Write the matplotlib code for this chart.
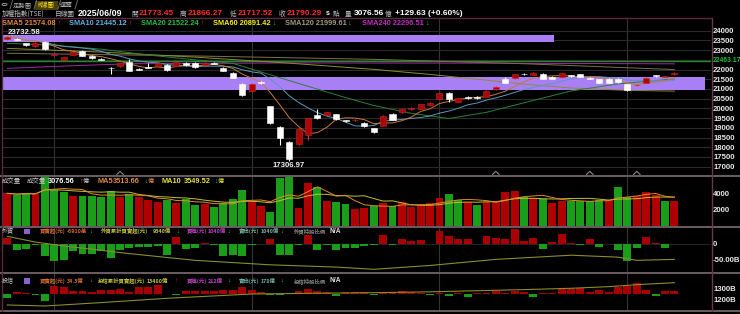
import matplotlib
matplotlib.use('Agg')
import matplotlib.pyplot as plt
from matplotlib.lines import Line2D
from matplotlib.patches import Rectangle
import numpy as np
import pandas as pd

plt.rcParams['font.family'] = ['Noto Sans CJK TC', 'DejaVu Sans']

# ---------------- data ----------------
opens = [23560, 23570, 23350, 23215, 23435, 22740, 22495, 22770, 22955, 22695,
         22540, 22095, 22185, 22370, 22020, 22120, 22200, 22250, 22185, 22355,
         22355, 22255, 22330, 22095, 21840, 21255, 20880, 21340, 20120, 19025,
         18280, 18170, 18640, 19660, 19645, 19695, 19380, 19395, 19265, 18975,
         19115, 19710, 19800, 19955, 19990, 20160, 20485, 20810, 20350, 20550,
         20560, 20605, 20985, 21495, 21550, 21780, 21720, 21785, 21630, 21600,
         21680, 21750, 21560, 21495, 21495, 21510, 21240, 21195, 21330, 21680,
         21620, 21773.45]
highs = [23732.58, 23620, 23390, 23420, 23490, 22800, 22660, 22930, 22990, 22740,
         22570, 22110, 22340, 22520, 22060, 22320, 22360, 22270, 22400, 22380,
         22370, 22370, 22380, 22120, 21860, 21290, 21300, 21420, 20130, 19100,
         18300, 19010, 19530, 19950, 19840, 19720, 19420, 19460, 19290, 19000,
         19640, 19740, 19990, 20050, 20250, 20320, 20800, 20840, 20560, 20620,
         20620, 20930, 21140, 21600, 21770, 21820, 21860, 21810, 21680, 21840,
         21720, 21780, 21600, 21520, 21580, 21560, 21260, 21260, 21600, 21700,
         21670, 21866.27]
lows = [23540, 23500, 23230, 23180, 23030, 22700, 22470, 22740, 22700, 22560,
        22480, 21760, 22150, 21920, 21960, 22100, 22180, 21950, 22160, 22200,
        22090, 22230, 22280, 21920, 21560, 20650, 20850, 21280, 19180, 18120,
        17306.97, 18140, 18380, 19470, 19620, 19420, 19300, 19350, 19060, 18740,
        19080, 19380, 19770, 19930, 19960, 20130, 20460, 20330, 20320, 20480,
        20500, 20580, 20960, 21300, 21530, 21720, 21700, 21490, 21490, 21580,
        21630, 21610, 21510, 21300, 21310, 21320, 20920, 21150, 21300, 21630,
        21600, 21717.52]
closes = [23700, 23550, 23270, 23380, 23050, 22765, 22625, 22900, 22715, 22580,
          22520, 22060, 22315, 21945, 22000, 22110, 22335, 21980, 22385, 22220,
          22115, 22350, 22310, 21945, 21585, 20675, 21255, 21320, 19230, 18460,
          17390, 18940, 19490, 19490, 19810, 19440, 19360, 19410, 19095, 18770,
          19605, 19405, 19965, 20020, 20225, 20290, 20770, 20500, 20530, 20530,
          20545, 20910, 21115, 21325, 21750, 21765, 21835, 21515, 21515, 21800,
          21665, 21635, 21545, 21330, 21330, 21345, 20950, 21210, 21580, 21665,
          21640, 21790.29]

volumes = [4083, 3875, 4167, 3958, 6500, 4500, 4292, 3792, 3750, 3792,
           3667, 4375, 3667, 3958, 3583, 3250, 2958, 3250, 2917, 3375,
           2625, 2708, 2333, 2833, 3333, 4500, 3042, 2542, 1792, 5958,
           6083, 2208, 5417, 4833, 3167, 3042, 2708, 2083, 2292, 2542,
           2833, 2542, 2958, 2333, 2625, 2917, 3500, 4000, 3250, 2958,
           2625, 3042, 3042, 4250, 4417, 3583, 3500, 3417, 2917, 3125,
           3125, 3125, 3083, 3250, 3250, 4833, 3667, 3750, 4250, 3833,
           3100, 3077]
vol_red = [1, 0, 0, 1, 0, 0, 0, 1, 0, 0, 0, 0, 1, 0, 1, 1, 1, 0, 1, 0,
           0, 1, 0, 0, 0, 0, 1, 1, 0, 0, 0, 1, 1, 0, 1, 0, 0, 1, 1, 0,
           1, 0, 1, 1, 1, 1, 1, 0, 0, 1, 0, 1, 1, 1, 1, 0, 1, 0, 1, 1,
           0, 0, 0, 0, 1, 0, 0, 1, 1, 1, 0, 1]

foreign_net = [17.8, -20.8, -17.7, -5.2, -39.6, -55.2, -52, -24, -31, -31,
               -24, -44.8, -20.8, -13.5, -10.4, -10.4, -7.3, -36.5, 20.8, -15.6,
               -13.5, 3.1, -3, -39.6, -36.5, -38.5, -5, -2, 15.6, -34.4,
               -36.5, -5, 28, -20.8, -5, -20.8, -13.5, -13.5, -7.3, -5,
               26, -5, 13.5, 7.3, 10.4, -2, 39.6, 24, 15.6, 13.5,
               -1, 24, 17.7, 15.6, 46.8, 8.3, 17.7, -15.6, 5.2, 29,
               2, -3, 13.5, -10.4, -2, -20.8, -55, -13.5, 20.8, 3,
               -13.5, -0.7]
foreign_cum_idx = [0, 3, 6, 13, 20, 28, 35, 39, 45, 52, 60, 65, 67, 71]
foreign_cum_val = [23, 5, -7, -31, -52, -66, -73, -80, -68, -49, -36, -42, -52, -49]

trust_net = [-56, 26, 17, -17, -87, 104, 95, 39, 43, 30,
             52, 52, 69, 26, 87, 95, 117, -4, -9, 35,
             35, 43, 43, 52, 52, 95, 52, 26, -17, -17,
             17, 43, 65, 43, 26, -22, 26, 26, 22, -13,
             30, 26, 39, 22, 9, -9, 9, -22, 9, -35,
             17, 17, 39, 17, 43, 26, -35, 9, 9, 61,
             61, 74, 30, 52, 26, 87, 104, 139, 52, -26,
             39, 34.3]
trust_cum_idx = [0, 4, 10, 17, 26, 33, 39, 45, 50, 55, 60, 64, 67, 71]
trust_cum_val = [1148, 1139, 1170, 1209, 1248, 1255, 1260, 1268, 1278, 1288, 1300, 1315, 1333, 1351]

sma20_idx = [0, 5, 10, 15, 20, 24, 28, 32, 36, 39, 43, 47, 51, 55, 60, 65, 71]
sma20_val = [23350, 23250, 23050, 22750, 22500, 22320, 21730, 21140, 20560, 20150,
             19750, 19480, 19800, 20290, 20900, 21260, 21522]
sma60_idx = [0, 10, 20, 30, 39, 45, 50, 55, 60, 66, 71]
sma60_val = [23090, 22900, 22640, 22330, 22011, 21750, 21500, 21250, 21050, 20930, 20891]
sma120_idx = [0, 20, 39, 55, 71]
sma120_val = [22840, 22700, 22526, 22300, 22000]
sma240_idx = [0, 6, 13, 30, 50, 71]
sma240_val = [22060, 22180, 22300, 22340, 22330, 22296]

ref_line = 22463.17
bands = [(23435, 23796, 0.7786), (20925, 21635, 0.9915)]  # low, high, right extent
month_start_idx = [5, 26, 46, 66]
event_idx = [12, 52, 62, 67]
price_ticks = [17000, 17500, 18000, 18500, 19000, 19500, 20000, 20500,
               21000, 21500, 22000, 23000, 23500, 24000]
price_grid = list(range(17000, 24001, 500))

# ---------------- figure ----------------
W, H = 740, 314
fig = plt.figure(figsize=(W / 100, H / 100), dpi=100, facecolor='black')
XL = (-0.564, 74.9)
LAT = ['Liberation Sans', 'DejaVu Sans']
CJK = ['Noto Sans CJK TC', 'DejaVu Sans']
TICK_SIZE = 5.6


def fx(x):
    return x / W


def fy(y):
    return 1 - y / H


def add_panel(top, bottom, grid=True):
    ax = fig.add_axes([2 / W, 1 - bottom / H, 709 / W, (bottom - top) / H])
    ax.set_facecolor('black')
    ax.set_xlim(XL)
    ax.set_xticks([])
    for s in ax.spines.values():
        s.set_visible(False)
    ax.tick_params(axis='y', left=False, labelleft=False, right=False,
                   labelright=True, length=0, pad=1.5, labelsize=TICK_SIZE, colors='#e6e6e6')
    if grid:
        for m in month_start_idx:
            ax.axvline(m, color='#343434', lw=0.8, zorder=0)
    return ax


def style_ticks(ax):
    for lbl in ax.get_yticklabels():
        lbl.set_fontfamily(LAT)
        lbl.set_fontweight('bold')


def t(x, y, s, color='#bdbdbd', size=5.0, bold=False, fam=None):
    fig.text(fx(x), fy(y), s, color=color, fontsize=size,
             fontweight='bold' if bold else 'normal', va='center', ha='left',
             family=fam if fam else CJK)


# ---- price panel ----
ax = add_panel(18, 175)
ax.set_ylim(16573, 24654)
ax.set_yticks(price_ticks)
ax.set_yticklabels([str(v) for v in price_ticks])
style_ticks(ax)
for v in price_grid:
    ax.axhline(v, color='#2b2b2b', lw=0.8, zorder=0)

for lo, hi, xr in bands:
    ax.axhspan(lo, hi, xmin=0, xmax=xr, color='#a97ff5', lw=0, zorder=1)

ax.axhline(ref_line, color='#1f8a2a', lw=1.0, zorder=2)
ax.annotate('22463.17', xy=(1.0, ref_line), xycoords=('axes fraction', 'data'),
            xytext=(1.0, 0), textcoords='offset points', color='#22c040', fontsize=4.9,
            fontweight='bold', family=LAT, va='center', ha='left', annotation_clip=False)

idx = np.arange(len(closes))
close_s = pd.Series(closes)
sma5 = close_s.rolling(5, min_periods=1).mean()
sma10 = close_s.rolling(10, min_periods=1).mean()
LW = 0.7
ax.plot(sma240_idx, sma240_val, color='#a028a0', lw=LW, zorder=2)
ax.plot(sma120_idx, sma120_val, color='#7e7048', lw=LW, zorder=2)
ax.plot(sma60_idx, sma60_val, color='#8e8e2c', lw=LW, zorder=2)
ax.plot(sma20_idx, sma20_val, color='#2a8038', lw=LW, zorder=2)
ax.plot(idx, sma10, color='#5a98c0', lw=LW, zorder=2)
ax.plot(idx, sma5, color='#c8783a', lw=LW, zorder=2)

for i in idx:
    o, h, l, c = opens[i], highs[i], lows[i], closes[i]
    up = c >= o
    body_col = '#a80808' if up else '#ffffff'
    wick_col = '#e03030' if up else '#ffffff'
    ax.vlines(i, l, h, color=wick_col, lw=0.8, zorder=3)
    bh = abs(c - o)
    bottom = min(o, c)
    if bh < 45:
        bottom = (o + c) / 2 - 22
        bh = 45
    ax.bar(i, bh, bottom=bottom, width=0.64, color=body_col,
           edgecolor=('#d02020' if up else '#ffffff'), lw=0.4, zorder=4)

for e in event_idx:
    ax.plot([e - 0.35, e, e + 0.35], [16600, 16760, 16600], color='#8a8a8a', lw=0.8, zorder=5)

ax.text(0.0, 23900, '23732.58', color='#f0f0f0', fontsize=5.6, fontweight='bold',
        family=LAT, va='center', ha='left', zorder=6)
ax.text(30, 17250, '17306.97', color='#f0f0f0', fontsize=5.6, fontweight='bold',
        family=LAT, va='top', ha='center', zorder=6)

# ---- volume panel ----
axv = add_panel(176, 226)
axv.set_ylim(0, 6250)
axv.set_yticks([2000, 4000])
axv.set_yticklabels(['2000', '4000'])
style_ticks(axv)
vcols = ['#b00000' if r else '#1a9e1a' for r in vol_red]
axv.bar(idx, volumes, width=0.84, color=vcols, zorder=2)
vol_s = pd.Series(volumes)
axv.plot(idx, vol_s.rolling(10, min_periods=1).mean(), color='#c8c030', lw=0.7, zorder=3)
axv.plot(idx, vol_s.rolling(5, min_periods=1).mean(), color='#e08a2a', lw=0.7, zorder=3)

# ---- foreign panel ----
axf = add_panel(228, 272)
axf.set_ylim(-88.4, 49)
axf.set_yticks([0, -50])
axf.set_yticklabels(['0', '-50.00B'])
style_ticks(axf)
axf.axhline(0, color='#2b2b2b', lw=0.6, zorder=0)
fcols = ['#a80000' if v >= 0 else '#1a9e1a' for v in foreign_net]
axf.bar(idx, foreign_net, width=0.84, color=fcols, zorder=2)
axf.plot(foreign_cum_idx, foreign_cum_val, color='#8c8c2c', lw=0.8, zorder=3)

# ---- trust panel (bars on back axes, cumulative line on front axes) ----
axtb = add_panel(274, 310.5)
axtb.set_ylim(-214.5, 260)
axtb.set_yticks([])
tcols = ['#a80000' if v >= 0 else '#1a9e1a' for v in trust_net]
axtb.bar(idx, trust_net, width=0.84, color=tcols, zorder=2)

axt = add_panel(274, 310.5, grid=False)
axt.patch.set_visible(False)
axt.set_ylim(1098, 1430)
axt.set_yticks([1200, 1300])
axt.set_yticklabels(['1200B', '1300B'])
style_ticks(axt)
axt.plot(trust_cum_idx, trust_cum_val, color='#8c8c2c', lw=0.8, zorder=3)

# ---- frame lines ----
sep_col = '#6c5c64'
for yy in [175.5, 227, 273, 311]:
    fig.add_artist(Line2D([0, 1], [fy(yy), fy(yy)], color=sep_col, lw=1.4))
fig.add_artist(Line2D([fx(2), fx(711)], [fy(18.3), fy(18.3)], color='#5a2a40', lw=1.0))
fig.add_artist(Line2D([fx(711.5), fx(711.5)], [fy(18.3), fy(311)], color='#6a3a4c', lw=1.0))
fig.add_artist(Line2D([fx(1.5), fx(1.5)], [fy(18.3), fy(311)], color='#5a2a40', lw=1.0))

# ---- header row 1 : tabs ----
fig.add_artist(plt.Circle((fx(4.5), fy(4.5)), 2.5 / W, transform=fig.transFigure,
                          fill=False, color='#aaaaaa', lw=0.6))
t(13, 4.8, '走勢圖', '#b0b0b0', 4.6)
fig.add_artist(Rectangle((fx(35), fy(9.5)), 23 / W, 9 / H, transform=fig.transFigure,
                         color='#4a3e08', lw=0))
t(37.5, 4.8, 'K線圖', '#f0e020', 4.6)
t(60, 4.8, '速覽', '#b0b0b0', 4.6)
for xx in [10, 34, 58, 75]:
    fig.add_artist(Line2D([fx(xx), fx(xx + 2.5)], [fy(9), fy(0.5)], color='#777777', lw=0.6))

# ---- header row 2 ----
Y2 = 13.6
t(2, Y2, '加權指數(TSE)', '#bdbdbd', 4.8)
t(55, Y2, '日線圖', '#bdbdbd', 4.8)
t(78, Y2, '2025/06/09', '#ffffff', 6.4, True, LAT)
for lab, val, x0 in [('開', '21773.45', 131), ('高', '21866.27', 180),
                     ('低', '21717.52', 230), ('收', '21790.29', 279)]:
    t(x0, Y2, lab, '#bdbdbd', 4.8)
    t(x0 + 8, Y2, val, '#ff2a2a', 6.0, True, LAT)
t(326, Y2, 's', '#ffffff', 5.0, True, LAT)
t(333, Y2, '點', '#bdbdbd', 4.8)
t(345, Y2, '量', '#bdbdbd', 4.8)
t(354, Y2, '3076.56', '#ffffff', 6.0, True, LAT)
t(385, Y2, '億', '#bdbdbd', 4.8)
t(395, Y2, '+129.63 (+0.60%)', '#ffffff', 6.0, True, LAT)

# ---- header row 3 : SMA legend ----
Y3 = 23.3
for lab, x0, col, up, ax0 in [('SMA5 21574.08', 2, '#e08a3a', True, 57),
                               ('SMA10 21445.12', 69, '#5fb0e0', True, 128),
                               ('SMA20 21522.24', 141, '#22c040', True, 200),
                               ('SMA60 20891.42', 213, '#f0f020', False, 272),
                               ('SMA120 21999.61', 285, '#a09a80', False, 347),
                               ('SMA240 22296.51', 362, '#c030c0', False, 425)]:
    t(x0, Y3, lab, col, 5.3, True, LAT)
    t(ax0, Y3, '↑' if up else '↓', '#ff2020' if up else '#20d020', 5.0, True, LAT)

# ---- volume header ----
YV = 181.3
t(2, YV, '成交量', '#c8c8c8', 4.6)
t(27, YV, '成交量', '#c8c8c8', 4.6)
t(48, YV, '3076.56', '#ffffff', 5.3, True, LAT)
t(79, YV, '↑', '#ff2020', 5.0, True, LAT)
t(83, YV, '億', '#c8c8c8', 4.4)
t(97, YV, 'MA5', '#e08a3a', 5.3, True, LAT)
t(113, YV, '3513.66', '#e08a3a', 5.3, True, LAT)
t(144, YV, '↓', '#20d020', 5.0, True, LAT)
t(148, YV, '億', '#e08a3a', 4.4)
t(162, YV, 'MA10', '#e8e040', 5.3, True, LAT)
t(184, YV, '3549.52', '#e8e040', 5.3, True, LAT)
t(214, YV, '↓', '#20d020', 5.0, True, LAT)
t(218, YV, '億', '#e8e040', 4.4)


def inst_header(y, name, net, net_up, cum_label, cum, cum_up, buy, sell, hold_label):
    t(2, y, name, '#c8c8c8', 4.4)
    fig.add_artist(Rectangle((fx(24), fy(y + 2.8)), 6 / W, 5.6 / H, transform=fig.transFigure,
                             color='#8a62d0', lw=0))
    t(40, y, '買賣超(元)', '#d06a30', 3.9, True)
    t(67, y, net, '#d06a30', 3.9, True)
    t(89, y, '↑' if net_up else '↓', '#ff2020' if net_up else '#20d020', 4.4, True, LAT)
    t(cum[3], y, cum_label, '#c0c040', 3.9, True)
    t(cum[1], y, cum[0], '#c0c040', 3.9, True)
    t(cum[2], y, '↑' if cum_up else '↓', '#ff2020' if cum_up else '#20d020', 4.4, True, LAT)
    t(187, y, '買進(元)', '#c040c0', 3.9, True)
    t(208, y, buy, '#c040c0', 3.9, True)
    t(227, y, '↓', '#20d020', 4.4, True, LAT)
    t(239, y, '賣出(元)', '#70b0a0', 3.9, True)
    t(261, y, sell, '#70b0a0', 3.9, True)
    t(280, y, '↓', '#20d020', 4.4, True, LAT)
    t(294, y, hold_label, '#8a8a8a', 3.9, True)
    t(330, y, 'N/A', '#e0e0e0', 4.8, True, LAT)


inst_header(231.3, '外資', '-6910萬', False, '外資累計買賣超(元)', ('9340億', 153, 176, 101), False,
            '1040億', '1040億', '外資持股比例')
inst_header(281.0, '投信', '34.3億', False, '投信累計買賣超(元)', ('13480億', 147, 174, 98), True,
            '212億', '178億', '投信持股比例')

fig.savefig('out.png', dpi=100, facecolor='black')
